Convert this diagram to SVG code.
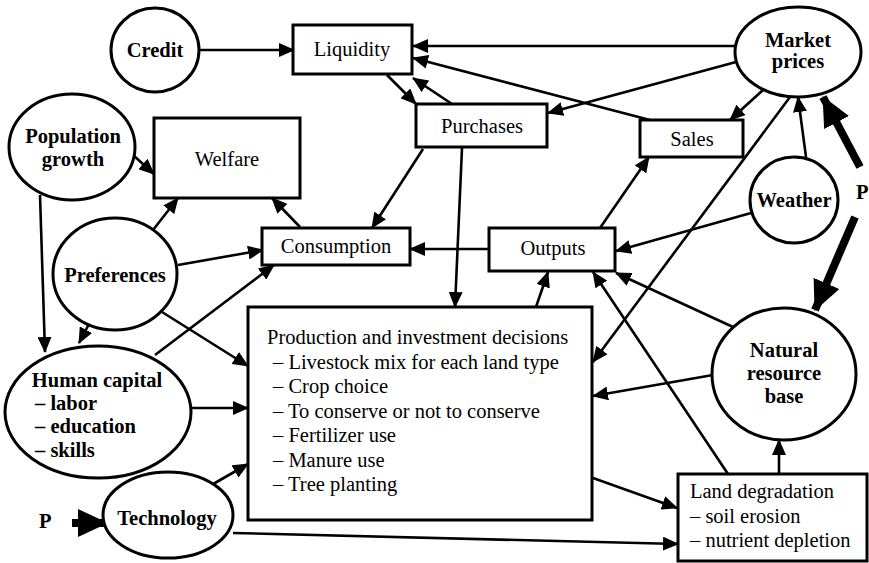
<svg xmlns="http://www.w3.org/2000/svg" width="869" height="563" viewBox="0 0 869 563">
<defs>
<style>
.t{font-family:'Liberation Serif','DejaVu Serif','Noto Serif',serif;font-size:20.5px;fill:#000}
.n{fill:#fff;stroke:#000;stroke-width:3}
.b{font-weight:bold}
.m{text-anchor:middle}
.c line{stroke:#000;stroke-width:2.6;marker-end:url(#a)}
.c line.k{stroke-width:8;marker-end:url(#ak)}
</style>
<marker id="a" markerUnits="userSpaceOnUse" markerWidth="16" markerHeight="14" refX="15" refY="7" orient="auto"><path d="M0,0 L16,7 L0,14 z" fill="#000"/></marker>
<marker id="ak" markerUnits="userSpaceOnUse" markerWidth="30" markerHeight="28" refX="29" refY="14" orient="auto"><path d="M0,0 L30,14 L0,28 z" fill="#000"/></marker>
</defs>
<rect width="869" height="563" fill="#fff"/>
<g class="c" id="connectors">
<line x1="199" y1="50" x2="294" y2="50"/>
<line x1="735" y1="46" x2="413" y2="46"/>
<line x1="650" y1="120" x2="413" y2="58"/>
<line x1="452" y1="104" x2="413" y2="78"/>
<line x1="387" y1="75" x2="416" y2="104"/>
<line x1="736" y1="62" x2="548" y2="113"/>
<line x1="763" y1="90" x2="730" y2="120"/>
<line x1="806" y1="157" x2="798" y2="97"/>
<line x1="790" y1="97" x2="593" y2="362"/>
<line x1="600" y1="228" x2="649" y2="157"/>
<line x1="751" y1="213" x2="616" y2="251"/>
<line x1="489" y1="249" x2="410" y2="249"/>
<line x1="423" y1="149" x2="372" y2="228"/>
<line x1="462" y1="148" x2="455" y2="307"/>
<line x1="300" y1="227" x2="272" y2="198"/>
<line x1="133" y1="155" x2="154" y2="174"/>
<line x1="40" y1="195" x2="45" y2="352"/>
<line x1="153" y1="230" x2="178" y2="198"/>
<line x1="178" y1="265" x2="263" y2="250"/>
<line x1="90" y1="322" x2="79" y2="343"/>
<line x1="162" y1="312" x2="248" y2="366"/>
<line x1="155" y1="355" x2="274" y2="265"/>
<line x1="192" y1="408" x2="248" y2="408"/>
<line x1="208" y1="487" x2="248" y2="464"/>
<line x1="233" y1="533" x2="678" y2="544"/>
<line x1="593" y1="478" x2="677" y2="508"/>
<line x1="536" y1="307" x2="548" y2="272"/>
<line x1="779" y1="474" x2="779" y2="440"/>
<line x1="728" y1="474" x2="593" y2="272"/>
<line x1="733" y1="327" x2="616" y2="273"/>
<line x1="713" y1="375" x2="593" y2="396"/>
<line class="k" x1="72" y1="523" x2="107" y2="523"/>
<line class="k" x1="860" y1="167" x2="823" y2="97"/>
<line class="k" x1="855" y1="217" x2="815" y2="310"/>
</g>
<g id="credit"><ellipse class="n" cx="155" cy="50" rx="44" ry="42"/><text class="t b m" x="155" y="57">Credit</text></g>
<g id="liquidity"><rect class="n" x="293" y="25" width="119" height="49"/><text class="t m" x="352" y="56">Liquidity</text></g>
<g id="market"><ellipse class="n" cx="798" cy="52" rx="63" ry="45"/><text class="t b m" x="798" y="47">Market</text><text class="t b m" x="798" y="68">prices</text></g>
<g id="population"><ellipse class="n" cx="72" cy="147" rx="63" ry="53"/><text class="t b m" x="73" y="143">Population</text><text class="t b m" x="73" y="166">growth</text></g>
<g id="welfare"><rect class="n" x="154" y="118" width="146" height="80"/><text class="t m" x="227" y="166">Welfare</text></g>
<g id="purchases"><rect class="n" x="416" y="104" width="131" height="43"/><text class="t m" x="482" y="133">Purchases</text></g>
<g id="sales"><rect class="n" x="640" y="120" width="103" height="37"/><text class="t m" x="692" y="146">Sales</text></g>
<g id="weather"><ellipse class="n" cx="794" cy="200" rx="44" ry="43"/><text class="t b m" x="794" y="207">Weather</text></g>
<g id="consumption"><rect class="n" x="262" y="228" width="148" height="37"/><text class="t m" x="336" y="253">Consumption</text></g>
<g id="outputs"><rect class="n" x="489" y="228" width="126" height="43"/><text class="t m" x="553" y="255">Outputs</text></g>
<g id="preferences"><ellipse class="n" cx="115" cy="274" rx="62" ry="56"/><text class="t b m" x="115" y="282">Preferences</text></g>
<g id="production"><rect class="n" x="248" y="307" width="344" height="213"/>
<text class="t" x="267" y="344">Production and investment decisions</text>
<text class="t" x="273" y="369">– Livestock mix for each land type</text>
<text class="t" x="273" y="393">– Crop choice</text>
<text class="t" x="273" y="417.5">– To conserve or not to conserve</text>
<text class="t" x="273" y="442">– Fertilizer use</text>
<text class="t" x="273" y="466.5">– Manure use</text>
<text class="t" x="273" y="491">– Tree planting</text></g>
<g id="human"><ellipse class="n" cx="98" cy="412" rx="93" ry="66"/>
<text class="t b m" x="97" y="387">Human capital</text>
<text class="t b" x="35" y="410">– labor</text>
<text class="t b" x="35" y="433">– education</text>
<text class="t b" x="35" y="457">– skills</text></g>
<g id="technology"><ellipse class="n" cx="168" cy="515" rx="65" ry="43"/><text class="t b m" x="167" y="525">Technology</text></g>
<g id="p1"><text class="t b" x="39" y="528">P</text></g>
<g id="p2"><text class="t b" x="856" y="199">P</text></g>
<g id="natural"><ellipse class="n" cx="784" cy="374" rx="72" ry="66"/><text class="t b m" x="784" y="357">Natural</text><text class="t b m" x="784" y="380">resource</text><text class="t b m" x="784" y="403">base</text></g>
<g id="land"><rect class="n" x="678" y="474" width="189" height="87"/>
<text class="t" x="690" y="498">Land degradation</text>
<text class="t" x="690" y="523">– soil erosion</text>
<text class="t" x="690" y="547">– nutrient depletion</text></g>
</svg>
